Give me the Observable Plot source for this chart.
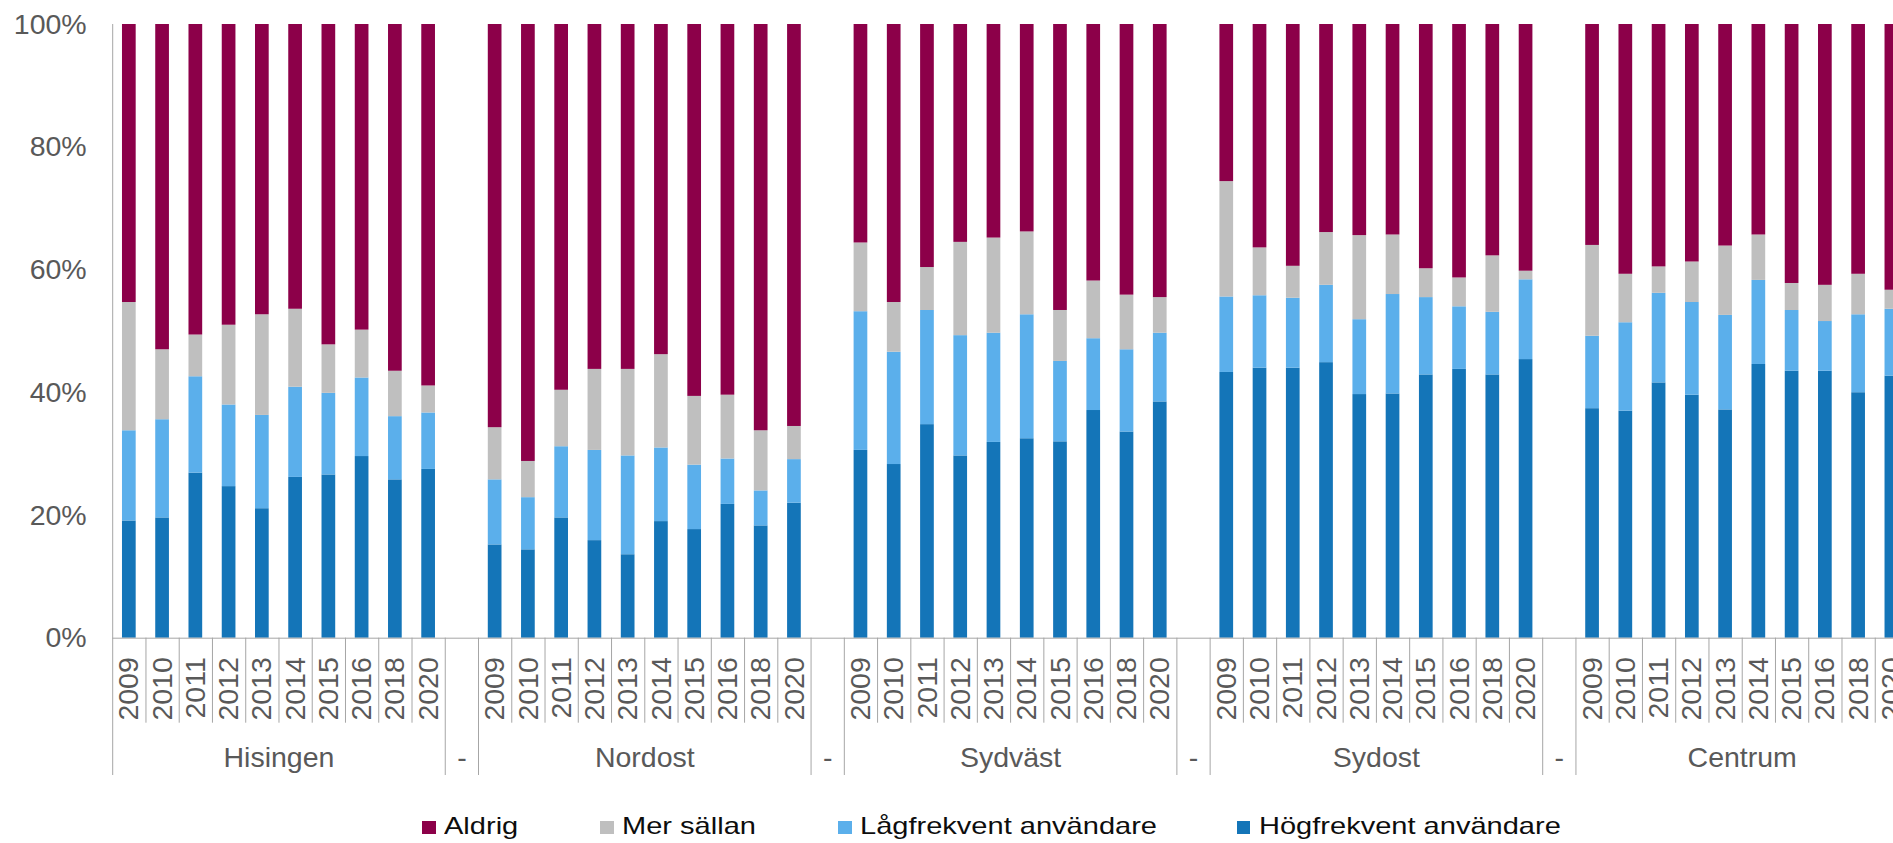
<!DOCTYPE html>
<html>
<head>
<meta charset="utf-8">
<script src="https://cdn.jsdelivr.net/npm/d3@7"></script>
<script src="https://cdn.jsdelivr.net/npm/@observablehq/plot@0.6"></script>
<style>
  html, body { margin: 0; padding: 0; background: #fff; overflow: hidden; }
  #wrap { position: relative; width: 1893px; height: 843px; overflow: hidden; background: #fff; }
  #chart svg { display: block; max-width: none; }
  .lg-swatch { position: absolute; top: 821px; width: 13.7px; height: 13.3px; }
  .lg-text { position: absolute; top: 814px; white-space: nowrap; font-family: "Liberation Sans", Arial, sans-serif;
             font-size: 23.8px; line-height: 1; color: #0d0d0d; transform: scaleX(1.22); transform-origin: left top; }
</style>
</head>
<body>
<div id="wrap"><div id="chart"></div><div id="legend"></div></div>
<script>
// ---- Data, region-major order, years as below ----
const regions = ["Hisingen", "Nordost", "Sydväst", "Sydost", "Centrum"];
const years = ["2009", "2010", "2011", "2012", "2013", "2014", "2015", "2016", "2018", "2020"];
const separatorLabel = "-";
const seriesNames = ["Högfrekvent användare", "Lågfrekvent användare", "Mer sällan", "Aldrig"];
const seriesColors = ["#1475b8", "#5bafeb", "#bfbfbf", "#8c0049"];
const legendOrder = ["Aldrig", "Mer sällan", "Lågfrekvent användare", "Högfrekvent användare"];
const yTicks = [0, 20, 40, 60, 80, 100];

const hogfrekvent = [
  19.1, 19.6, 26.9, 24.7, 21.1, 26.2, 26.6, 29.6, 25.8, 27.5, // Hisingen
  15.2, 14.4, 19.6, 15.9, 13.6, 19.0, 17.7, 21.8, 18.3, 22.0, // Nordost
  30.6, 28.3, 34.8, 29.7, 31.9, 32.5, 32.0, 37.1, 33.6, 38.5, // Sydväst
  43.3, 44.0, 44.0, 44.9, 39.7, 39.8, 42.9, 43.8, 42.9, 45.4, // Sydost
  37.4, 37.0, 41.6, 39.6, 37.2, 44.6, 43.5, 43.5, 40.0, 42.7  // Centrum
];
const lagfrekvent = [
  14.7, 16.0, 15.7, 13.3, 15.2, 14.7, 13.3, 12.8, 10.3, 9.2,
  10.6, 8.5, 11.6, 14.7, 16.1, 12.0, 10.5, 7.4, 5.7, 7.1,
  22.6, 18.3, 18.6, 19.6, 17.8, 20.2, 13.1, 11.7, 13.4, 11.2,
  12.3, 11.8, 11.4, 12.6, 12.2, 16.2, 12.6, 10.2, 10.2, 13.0,
  11.8, 14.4, 14.6, 15.1, 15.4, 13.7, 9.9, 8.1, 12.7, 10.9
];
const merSallan = [
  20.9, 11.4, 6.8, 13.0, 16.4, 12.7, 7.9, 7.8, 7.4, 4.4,
  8.5, 5.9, 9.2, 13.2, 14.1, 15.2, 11.2, 10.4, 9.8, 5.4,
  11.2, 8.1, 7.0, 15.2, 15.5, 13.5, 8.3, 9.4, 8.9, 5.8,
  18.8, 7.8, 5.2, 8.6, 13.7, 9.7, 4.7, 4.7, 9.2, 1.4,
  14.8, 7.9, 4.3, 6.6, 11.3, 7.4, 4.4, 5.9, 6.6, 3.1
];
const aldrig = [
  45.3, 53.0, 50.6, 49.0, 47.3, 46.4, 52.2, 49.8, 56.5, 58.9,
  65.7, 71.2, 59.6, 56.2, 56.2, 53.8, 60.6, 60.4, 66.2, 65.5,
  35.6, 45.3, 39.6, 35.5, 34.8, 33.8, 46.6, 41.8, 44.1, 44.5,
  25.6, 36.4, 39.4, 33.9, 34.4, 34.3, 39.8, 41.3, 37.7, 40.2,
  36.0, 40.7, 39.5, 38.7, 36.1, 34.3, 42.2, 42.5, 40.7, 43.3
];

// ---- Build table ----
const seriesValues = [hogfrekvent, lagfrekvent, merSallan, aldrig];
const slots = [];
const sepSlots = [];
const data = [];
regions.forEach((r, ri) => {
  if (ri > 0) { const s = "sep" + ri; slots.push(s); sepSlots.push(s); }
  years.forEach((y, yi) => {
    const key = r + " " + y;
    slots.push(key);
    seriesNames.forEach((name, si) => {
      data.push({slot: key, series: name, value: seriesValues[si][ri * years.length + yi]});
    });
  });
});

// ---- Layout ----
const W = 1908, H = 790;
const mLeft = 112.2, mRight = 0, mTop = 24, mBottom = H - 637.7;
const step = (W - mLeft - mRight) / slots.length;
const barWidth = 13.7;
const inset = (step - barWidth) / 2;
const font = "'Liberation Sans', Arial, sans-serif";
const axisGray = "#a6a6a6";
const textGray = "#595959";

const shortEdges = [];   // boundaries between years inside a group
const longEdges = [];    // boundaries around separators
regions.forEach((r, ri) => {
  years.forEach((y, yi) => { if (yi > 0) shortEdges.push(r + " " + y); });
});
sepSlots.forEach((s, i) => { longEdges.push(s); longEdges.push(regions[i + 1] + " " + years[0]); });

const plot = Plot.plot({
  width: W, height: H,
  marginLeft: mLeft, marginRight: mRight, marginTop: mTop, marginBottom: mBottom,
  style: {fontFamily: font, fontSize: "28.5px", color: textGray, background: "white", maxWidth: "none", overflow: "visible"},
  x: {type: "band", domain: slots, padding: 0, round: false, axis: null},
  y: {domain: [0, 100], ticks: yTicks, tickFormat: d => d + "%", tickSize: 0, tickPadding: 26, label: null},
  color: {domain: seriesNames, range: seriesColors},
  marks: [
    Plot.barY(data, {x: "slot", y: "value", fill: "series", order: seriesNames, insetLeft: inset, insetRight: inset}),
    Plot.ruleY([0], {stroke: axisGray, strokeWidth: 1}),
    Plot.ruleX([slots[0]], {dx: -step / 2, y1: 100, y2: 0, insetBottom: -137.3, stroke: axisGray}),
    Plot.ruleX(shortEdges, {dx: -step / 2, y1: 0, y2: 0, insetBottom: -85, stroke: axisGray}),
    Plot.ruleX(longEdges, {dx: -step / 2, y1: 0, y2: 0, insetBottom: -137.3, stroke: axisGray}),
    Plot.text(slots.filter(s => !s.startsWith("sep")), {
      x: d => d, text: d => d.split(" ")[1], rotate: -90, textAnchor: "end", lineAnchor: "middle",
      frameAnchor: "bottom", dy: 19, fill: textGray, fontSize: 28.5
    }),
    Plot.text(regions, {
      x: r => r + " " + years[5], dx: -step / 2, text: d => d, lineAnchor: "middle",
      frameAnchor: "bottom", dy: 120, fill: textGray, fontSize: 28.5
    }),
    Plot.text(sepSlots, {
      x: d => d, text: () => separatorLabel, lineAnchor: "middle",
      frameAnchor: "bottom", dy: 120, fill: textGray, fontSize: 28.5
    })
  ]
});
document.getElementById("chart").appendChild(plot);

// ---- Legend (HTML, below the SVG) ----
const legendLefts = [422.3, 600, 838, 1236.5];
const legend = document.getElementById("legend");
legendOrder.forEach((name, i) => {
  const c = seriesColors[seriesNames.indexOf(name)];
  const sw = document.createElement("div");
  sw.className = "lg-swatch";
  sw.style.left = legendLefts[i] + "px";
  sw.style.background = c;
  const tx = document.createElement("div");
  tx.className = "lg-text";
  tx.style.left = (legendLefts[i] + 22) + "px";
  tx.textContent = name;
  legend.appendChild(sw);
  legend.appendChild(tx);
});
</script>
</body>
</html>
